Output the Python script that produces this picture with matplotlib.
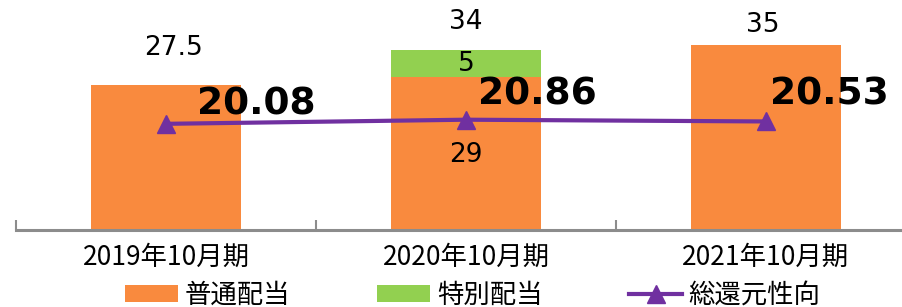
import matplotlib.pyplot as plt
import numpy as np

# data
periods = ['2019年10月期', '2020年10月期', '2021年10月期']
regular = [27.5, 29, 35]
special = [0, 5, 0]
payout = [20.08, 20.86, 20.53]
totals = [27.5, 34, 35]

orange = '#F98A3E'
green = '#92D050'
purple = '#7030A0'
jp = ['Noto Sans CJK JP', 'DejaVu Sans']

fig = plt.figure(figsize=(9.02, 3.07), dpi=100)
ax = fig.add_axes([16 / 902, 1 - 230 / 307, 900 / 902, 230 / 307])

x = np.arange(len(periods))
b1 = ax.bar(x, regular, width=0.5, color=orange, label='普通配当', zorder=2)
b2 = ax.bar(x, special, width=0.5, bottom=regular, color=green, label='特別配当', zorder=2)
ln, = ax.plot(x, payout, color=purple, lw=3, marker='^', ms=13, label='総還元性向', zorder=3)

ax.set_xlim(-0.5, 2.5)
ax.set_ylim(0, 43.5)

# axis styling
for s in ['left', 'right', 'top']:
    ax.spines[s].set_visible(False)
ax.spines['bottom'].set_color('#8C8C8C')
ax.spines['bottom'].set_linewidth(2.2)
ax.set_yticks([])
ax.set_xticks(x)
ax.set_xticklabels(periods, fontfamily=jp, fontsize=19)
ax.tick_params(axis='x', which='major', length=0, pad=10)
ax.set_xticks([-0.5, 0.5, 1.5, 2.5], minor=True)
ax.tick_params(axis='x', which='minor', direction='in', length=7, width=1.5, color='#8C8C8C')

# bar labels
def lab(txt, xy, off, **kw):
    ax.annotate(txt, xy=xy, xytext=off, textcoords='offset pixels',
                ha='center', va='center', fontfamily='DejaVu Sans', **kw)

lab('27.5', (0, totals[0]), (8, 37), fontsize=19)
lab('34', (1, totals[1]), (0, 28), fontsize=19)
lab('35', (2, totals[2]), (-3, 20), fontsize=19)
lab('29', (1, regular[1]), (0, -78), fontsize=19)
lab('5', (1, regular[1] + special[1] / 2), (0, -1), fontsize=19)

# payout ratio labels
for i, off in enumerate([(90, 19), (71, 25), (63, 27)]):
    lab(f'{payout[i]:.2f}', (i, payout[i]), off, fontsize=27, fontweight='bold')

leg = fig.legend([b1, b2, ln], ['普通配当', '特別配当', '総還元性向'],
                 loc='center', bbox_to_anchor=(473 / 902, 1 - 295 / 307), ncol=3,
                 frameon=False, prop={'family': jp, 'size': 19},
                 handlelength=2.0, handleheight=0.6, handletextpad=0.25,
                 columnspacing=3.3)

fig.savefig('out.png', dpi=100)
